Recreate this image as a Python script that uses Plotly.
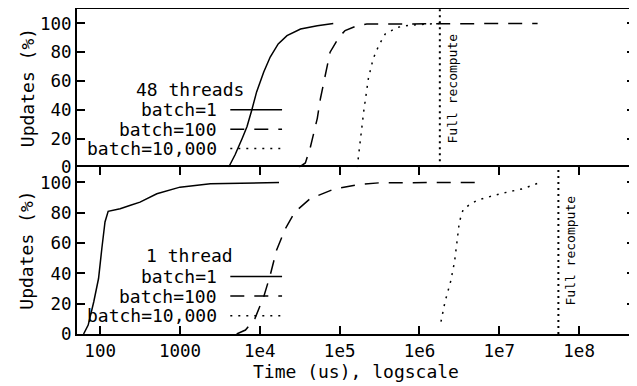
import math
import plotly.graph_objects as go

# ---- data (time in microseconds, updates in %) ----
t48_b1 = [4070, 4900, 6030, 6920, 7940, 9120, 11200, 13500, 17000, 21900, 32400, 52500, 83200]
u48_b1 = [0, 8.7, 20.2, 28.3, 39.8, 52.4, 66.2, 76.6, 85.7, 91.5, 96.1, 98.4, 100]

t48_b100 = [30900, 37200, 42700, 52500, 57500, 66100, 75900, 97700, 117000, 166000, 219000, 30200000]
u48_b100 = [0, 3, 13.3, 34, 47.8, 63.9, 80, 90.3, 95, 98.4, 99.5, 100]

t48_b10k = [166000, 182000, 200000, 229000, 263000, 309000, 372000, 525000, 759000, 1780000]
u48_b10k = [0, 20.2, 38.6, 61.6, 75.4, 84.6, 92.6, 97.2, 98.8, 100]

t1_b1 = [62, 70.8, 83.2, 95.5, 105, 115, 126, 178, 240, 316, 513, 1000, 2400, 13500, 17400]
u1_b1 = [0, 5.9, 21.3, 36.6, 56.4, 73.9, 80.9, 82.7, 84.9, 87, 92.5, 96.9, 99.1, 100, 100]

t1_b100 = [5130, 6610, 8710, 11200, 13500, 16200, 20900, 27500, 42700, 83200, 166000, 324000, 6310000]
u1_b100 = [0, 2.6, 10.3, 24.6, 38.8, 55.3, 69.5, 80.5, 89.3, 95.4, 98.5, 99.8, 100]

t1_b10k = [1860000, 2090000, 2450000, 2750000, 2950000, 3160000, 3550000, 5250000, 10200000, 20000000, 32400000]
u1_b10k = [8.1, 21.3, 34.4, 47.6, 60.7, 73.9, 82.7, 88.2, 92.5, 95.9, 100]

full_recompute_48 = 1.8e6
full_recompute_1 = 5.5e7

series_labels = ["batch=1", "batch=100", "batch=10,000"]
panel_titles = ["48 threads", "1 thread"]
tick_vals = [100, 1000, 1e4, 1e5, 1e6, 1e7, 1e8]
tick_text = ["100", "1000", "1e4", "1e5", "1e6", "1e7", "1e8"]

FONT = "DejaVu Sans Mono"
FS = 18
FT = 17.5
dashes = ["solid", "14px,10px", "2px,6px"]
LW = 1.5

fig = go.Figure()

panels = [
    ("x2", "y2", [(t48_b1, u48_b1), (t48_b100, u48_b100), (t48_b10k, u48_b10k)],
     full_recompute_48, panel_titles[0], [40, 26.5, 13], 54),
    ("x", "y", [(t1_b1, u1_b1), (t1_b100, u1_b100), (t1_b10k, u1_b10k)],
     full_recompute_1, panel_titles[1], [38, 25, 12], 51.5),
]

ann = []
for xa, ya, data, rec, title, rows_y, title_y in panels:
    for (tx, uy), d in zip(data, dashes):
        fig.add_trace(go.Scatter(x=tx, y=uy, mode="lines", xaxis=xa, yaxis=ya,
                                 line=dict(color="black", width=LW, dash=d),
                                 showlegend=False, hoverinfo="skip"))
    fig.add_trace(go.Scatter(x=[rec, rec], y=[0, 110], mode="lines",
                             xaxis=xa, yaxis=ya,
                             line=dict(color="black", width=2, dash="2px,4px"),
                             showlegend=False, hoverinfo="skip"))
    for yy, d in zip(rows_y, dashes):
        fig.add_trace(go.Scatter(x=[4270, 19000], y=[yy, yy], mode="lines",
                                 xaxis=xa, yaxis=ya,
                                 line=dict(color="black", width=LW, dash=d),
                                 showlegend=False, hoverinfo="skip"))
    ann.append(dict(x=3.12, y=title_y, xref=xa, yref=ya, text=title, showarrow=False,
                    xanchor="center", yanchor="middle",
                    font=dict(family=FONT, size=FS, color="black")))
    for lab, yy in zip(series_labels, rows_y):
        ann.append(dict(x=3.49, y=yy, xref=xa, yref=ya, text=lab, showarrow=False,
                        xanchor="right", yanchor="middle",
                        font=dict(family=FONT, size=FS, color="black")))
    ann.append(dict(x=math.log10(rec), y=55, xref=xa, yref=ya, text="Full recompute",
                    showarrow=False, textangle=-90, xanchor="left", yanchor="middle",
                    xshift=3, font=dict(family=FONT, size=13, color="black")))
    ann.append(dict(x=-0.0896, y=0.5, xref="paper", yref=ya + " domain", text="Updates (%)",
                    showarrow=False, textangle=-90, xanchor="center", yanchor="middle",
                    font=dict(family=FONT, size=FS, color="black")))

ann.append(dict(x=0.5, y=-0.1166, xref="paper", yref="paper", text="Time (us), logscale",
                showarrow=False, xanchor="center", yanchor="middle",
                font=dict(family=FONT, size=FS, color="black")))

ax_common = dict(type="log", range=[1.71, 8.70], showgrid=False, zeroline=False,
                 showline=True, linecolor="black", linewidth=2, automargin=False)
y_common = dict(range=[0, 110], showgrid=False, zeroline=False, showline=True,
                linecolor="black", linewidth=2, mirror="ticks", ticks="inside",
                ticklen=8, tickcolor="black", tickwidth=1.5, automargin=False,
                tickvals=[0, 20, 40, 60, 80, 100],
                tickfont=dict(family=FONT, size=FT, color="black"))

fig.update_layout(
    width=629, height=378,
    margin=dict(l=69, r=2, t=1, b=52, pad=0),
    plot_bgcolor="white", paper_bgcolor="white",
    showlegend=False,
    xaxis=dict(**ax_common, domain=[0, 1], anchor="y", mirror="ticks", ticks="inside",
               ticklen=8, tickcolor="black", tickwidth=1.5,
               tickvals=tick_vals, ticktext=tick_text,
               tickfont=dict(family=FONT, size=FT, color="black")),
    yaxis=dict(**y_common, domain=[0, 0.513], anchor="x"),
    xaxis2=dict(**ax_common, domain=[0, 1], anchor="y2", matches="x", side="top",
                mirror=False, ticks="", showticklabels=False),
    yaxis2=dict(**y_common, domain=[0.513, 1], anchor="x2"),
    annotations=ann,
)

fig.write_html("out.html")
